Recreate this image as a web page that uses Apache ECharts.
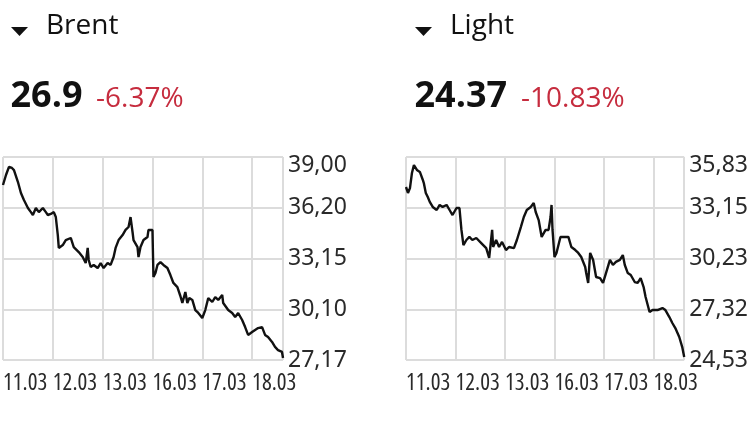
<!DOCTYPE html>
<html>
<head>
<meta charset="utf-8">
<script src="https://cdn.jsdelivr.net/npm/echarts@6/dist/echarts.min.js"></script>
<style>
html,body{margin:0;padding:0;background:#fff;}
#c{width:751px;height:422px;}
</style>
</head>
<body>
<div id="c"></div>
<script>
// ---------- data ----------
const dateLabels = ['11.03', '12.03', '13.03', '16.03', '17.03', '18.03'];

const brentTitle = 'Brent';
const brentPrice = '26.9';
const brentChange = '-6.37%';
const brentTicks = ['27,17', '30,10', '33,15', '36,20', '39,00'];
const brentMin = 27.17, brentMax = 39.00;

const lightTitle = 'Light';
const lightPrice = '24.37';
const lightChange = '-10.83%';
const lightTicks = ['24,53', '27,32', '30,23', '33,15', '35,83'];
const lightMin = 24.53, lightMax = 35.83;

const dayEnd = 5.62; // last day is partial

// time in trading days since 11.03 open
const brentTimes = [0,0.06,0.12,0.18,0.22,0.30,0.36,0.42,0.50,0.56,0.60,0.66,0.72,0.80,0.86,0.90,0.96,1.00,1.02,1.06,1.10,1.12,1.20,1.26,1.30,1.36,1.42,1.52,1.60,1.66,1.70,1.72,1.76,1.82,1.90,1.96,2.02,2.10,2.16,2.22,2.26,2.32,2.40,2.46,2.52,2.56,2.60,2.62,2.70,2.72,2.76,2.82,2.90,2.92,3.00,3.02,3.06,3.10,3.16,3.22,3.30,3.36,3.42,3.50,3.56,3.60,3.66,3.70,3.74,3.80,3.86,3.92,4.00,4.06,4.12,4.20,4.26,4.32,4.40,4.42,4.52,4.60,4.66,4.72,4.80,4.86,4.92,5.00,5.06,5.12,5.20,5.26,5.32,5.40,5.46,5.52,5.60,5.62];
const brentValues = [37.37,37.95,38.42,38.36,38.24,37.54,36.90,36.49,36.03,35.79,35.62,36.03,35.79,36.03,35.79,35.62,35.68,35.62,35.79,35.50,34.45,33.70,33.87,34.16,34.05,34.28,33.75,33.46,33.17,32.82,33.70,33.00,32.59,32.71,32.53,32.82,32.53,32.82,32.71,33.17,33.70,34.16,34.45,34.75,34.92,35.50,34.63,34.16,33.75,33.17,33.75,34.16,34.34,34.75,34.75,32.01,32.24,32.71,32.88,32.71,32.53,32.12,31.66,31.42,30.90,30.49,31.13,30.49,30.78,30.67,30.08,29.91,29.62,30.08,30.78,30.55,30.84,30.67,30.96,30.49,30.08,29.91,29.68,29.91,29.50,29.09,28.63,28.80,28.92,29.03,29.09,28.63,28.51,28.22,27.93,27.75,27.64,27.29];

const lightTimes = [0,0.04,0.08,0.12,0.16,0.22,0.28,0.34,0.36,0.40,0.44,0.48,0.54,0.62,0.68,0.74,0.82,0.88,0.94,1.02,1.08,1.12,1.16,1.22,1.28,1.34,1.42,1.52,1.62,1.68,1.74,1.76,1.82,1.88,1.94,2.02,2.08,2.18,2.24,2.32,2.38,2.44,2.52,2.58,2.62,2.68,2.74,2.82,2.88,2.92,2.94,2.96,3.00,3.04,3.12,3.22,3.28,3.34,3.42,3.48,3.54,3.62,3.64,3.68,3.72,3.78,3.84,3.92,3.98,4.04,4.12,4.18,4.24,4.32,4.38,4.42,4.48,4.54,4.62,4.68,4.74,4.80,4.84,4.92,4.98,5.08,5.18,5.24,5.32,5.38,5.44,5.52,5.58,5.62];
const lightValues = [34.16,33.83,34.10,34.94,35.38,35.11,35.00,34.55,34.38,33.83,33.60,33.33,33.05,32.88,33.16,33.05,33.16,32.88,32.60,32.99,32.99,31.77,30.93,31.21,31.38,31.21,31.32,31.04,30.76,30.21,31.77,30.82,31.21,30.82,31.10,30.65,30.82,30.76,31.21,31.93,32.49,32.88,33.05,33.27,32.77,32.32,31.38,31.77,31.77,32.49,33.16,31.77,30.26,30.49,31.38,31.38,31.38,30.82,30.65,30.49,30.26,29.71,29.37,28.82,30.49,30.10,29.15,29.09,28.82,29.37,30.10,29.82,29.99,30.10,30.37,29.82,29.37,29.26,28.87,28.82,29.09,28.59,28.04,27.20,27.31,27.31,27.42,27.31,26.92,26.59,26.31,25.81,25.25,24.70];

// ---------- chart ----------
const famY = "'Noto Sans', sans-serif";
const famX = "'Open Sans', sans-serif";
const stretch = 'condensed';
const gridColor = '#dcdcdc';
const red = '#c62c3e';
const labelColor = '#2a2a2a';

function yAxisFor(idx, min, max, ticks) {
  const step = (max - min) / (ticks.length - 1);
  return {
    gridIndex: idx, type: 'value', position: 'right',
    min: min, max: max, interval: step,
    axisLine: {show: false}, axisTick: {show: false},
    splitLine: {show: true, lineStyle: {color: gridColor, width: 2}},
    axisLabel: {
      margin: 5, color: labelColor, fontSize: 23, fontFamily: famY, fontStyle: stretch,
      formatter: function (v) {
        const i = Math.round((v - min) / step);
        const s = ticks[i] || '';
        return i === ticks.length - 1 ? '{t|' + s + '}' : s;
      },
      rich: {t: {fontSize: 23, fontFamily: famY, fontStyle: stretch, color: labelColor, padding: [16, 0, 0, 0]}}
    }
  };
}
// onlyFirst: axis that carries just the first date label (kept separate so the
// min-label overlap check cannot drop a label); otherwise labels from the 2nd day on.
function xAxisFor(idx, onlyFirst) {
  return {
    gridIndex: idx, type: 'value', min: 0, max: dayEnd, interval: 1, position: 'bottom',
    axisLine: {show: false}, axisTick: {show: false},
    splitLine: {show: !onlyFirst, lineStyle: {color: gridColor, width: 2}},
    axisLabel: {
      margin: 12, align: 'left', color: labelColor, fontSize: 23, fontFamily: famX, fontStyle: stretch,
      showMinLabel: onlyFirst ? true : false, showMaxLabel: false, hideOverlap: false,
      formatter: function (v) {
        const k = Math.round(v);
        if (Math.abs(v - k) > 1e-6) return '';
        if (onlyFirst && k !== 0) return '';
        return dateLabels[k] || '';
      }
    }
  };
}
function lineSeries(idx, times, values) {
  return {
    type: 'line', xAxisIndex: idx, yAxisIndex: idx,
    data: times.map((t, i) => [t, values[i]]),
    showSymbol: false, symbol: 'none', smooth: false,
    lineStyle: {color: '#111', width: 2.4},
    animation: false
  };
}
function header(x0, title, price, change, changeX) {
  return [
    {type: 'polygon', shape: {points: [[x0, 27], [x0 + 17, 27], [x0 + 8.5, 36]]}, style: {fill: '#111'}},
    {type: 'text', x: x0 + 35, y: 26.5, style: {text: title, font: '28px "Open Sans"', fill: '#111', verticalAlign: 'middle'}},
    {type: 'text', x: x0 - 0.5, y: 96.5, style: {text: price, font: 'bold 36px "Open Sans"', fill: '#111', verticalAlign: 'middle'}},
    {type: 'text', x: changeX, y: 99.5, style: {text: change, font: '28px "Open Sans"', fill: red, verticalAlign: 'middle'}}
  ];
}

const chart = echarts.init(document.getElementById('c'), null, {renderer: 'canvas'});
chart.setOption({
  animation: false,
  backgroundColor: '#fff',
  grid: [
    {left: 2, top: 157, width: 281, height: 203},
    {left: 406, top: 157, width: 281, height: 203}
  ],
  xAxis: [xAxisFor(0, false), xAxisFor(1, false), xAxisFor(0, true), xAxisFor(1, true)],
  yAxis: [yAxisFor(0, brentMin, brentMax, brentTicks), yAxisFor(1, lightMin, lightMax, lightTicks)],
  series: [lineSeries(0, brentTimes, brentValues), lineSeries(1, lightTimes, lightValues)],
  graphic: header(11, brentTitle, brentPrice, brentChange, 96).concat(header(415, lightTitle, lightPrice, lightChange, 521))
});
</script>
</body>
</html>
